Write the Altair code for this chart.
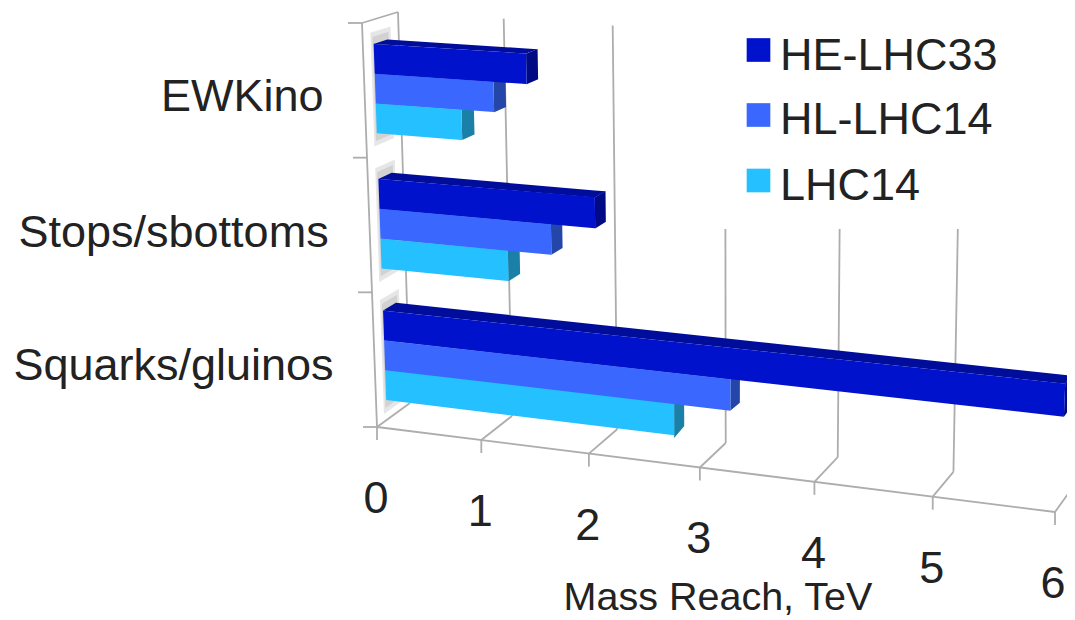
import altair as alt
import pandas as pd

# ---- values (TeV) ----
categories = ["Squarks/gluinos", "Stops/sbottoms", "EWKino"]
series = ["LHC14", "HL-LHC14", "HE-LHC33"]
LHC14 = [2.7, 1.2, 0.8]
HL_LHC14 = [3.2, 1.6, 1.1]
HE_LHC33 = [6.0, 2.0, 1.4]
x_ticks = [0, 1, 2, 3, 4, 5, 6]
x_title = "Mass Reach, TeV"

# ---- styles ----
legend_order = ["HE-LHC33", "HL-LHC14", "LHC14"]
legend_swatch_y = [50, 115, 180.5]
legend_text_y = [56, 120, 186]
front_colors = {"HE-LHC33": "#0012CC", "HL-LHC14": "#3A68FF", "LHC14": "#24C0FF"}
top_colors = {"HE-LHC33": "#000C9A", "HL-LHC14": "#2F55D0", "LHC14": "#1E9FD4"}
side_colors = {"HE-LHC33": "#000A85", "HL-LHC14": "#2346A8", "LHC14": "#1A80A8"}
FONT = "Liberation Sans"
TEXT = "#222222"
GRID = "#adadad"

# ---- perspective box: value (0-6), slot height (0-1), depth (0-1) -> canvas position ----
BOX = {  # (front/back, bottom/top, left/right)
    "fbl": (377, 427), "fbr": (1055, 512), "bbl": (410, 403), "bbr": (1073, 487),
    "ftl": (362, 23), "ftr": (1075, 65), "btl": (398, 12), "btr": (1085, 55),
}
VMAX = 6.0


def warp(u, k):
    return u / (u + k * (1 - u))


def project(v, h, d):
    t = warp(v / VMAX, 1.1)
    def lerp(a, b, s):
        return (a[0] + (b[0] - a[0]) * s, a[1] + (b[1] - a[1]) * s)
    fb = lerp(BOX["fbl"], BOX["fbr"], t)
    ft = lerp(BOX["ftl"], BOX["ftr"], t)
    bb = lerp(BOX["bbl"], BOX["bbr"], t)
    bt = lerp(BOX["btl"], BOX["btr"], t)
    return lerp(lerp(fb, ft, h), lerp(bb, bt, h), d)


def hpos(slot_pos):
    return warp(slot_pos, 1.04)


def sweep(poly):
    """Turn a convex polygon into x / y / y2 rows for an area mark."""
    xs = sorted({round(p[0], 2) for p in poly})
    rows = []
    n = len(poly)
    for x in xs:
        ys = []
        for i in range(n):
            (x0, y0), (x1, y1) = poly[i], poly[(i + 1) % n]
            if min(x0, x1) - 0.01 <= x <= max(x0, x1) + 0.01:
                if abs(x1 - x0) < 1e-6:
                    ys += [y0, y1]
                else:
                    ys.append(y0 + (y1 - y0) * (x - x0) / (x1 - x0))
        rows.append((x, min(ys), max(ys)))
    return rows


D0, D1 = 0.30, 0.68
T = 0.0745
values = {"LHC14": LHC14, "HL-LHC14": HL_LHC14, "HE-LHC33": HE_LHC33}

back_rows, front_rows, shadow_rows = [], [], []
for ci, cat in enumerate(categories):
    centre = (ci + 0.5) / 3
    for si, s in enumerate(series):
        v = values[s][ci]
        lo = hpos(centre) + T * (si - 1.5)
        hi = lo + T
        f = [project(0, lo, D0), project(0, hi, D0), project(v, hi, D0), project(v, lo, D0)]
        top = [project(0, hi, D0), project(0, hi, D1), project(v, hi, D1), project(v, hi, D0)]
        side = [project(v, lo, D0), project(v, hi, D0), project(v, hi, D1), project(v, lo, D1)]
        for name, poly, col in (("top", top, top_colors[s]), ("side", side, side_colors[s])):
            for x, y, y2 in sweep(poly):
                back_rows.append(dict(face=f"{cat}-{s}-{name}", x=x, y=y, y2=y2, color=col))
        for x, y, y2 in sweep(f):
            front_rows.append(dict(face=f"{cat}-{s}", series=s, x=x, y=y, y2=y2))
    for pad, dlo, dhi in ((0.03, 0.22, 0.78), (0.018, 0.27, 0.72)):
        glo = hpos(centre) - 1.5 * T - pad
        ghi = hpos(centre) + 1.5 * T + pad
        poly = [project(0, glo, dlo), project(0, ghi, dlo), project(0, ghi, dhi), project(0, glo, dhi)]
        for x, y, y2 in sweep(poly):
            shadow_rows.append(dict(face=f"{cat}-{pad}", x=x, y=y, y2=y2))

segments = []


def seg(name, a, b):
    segments.append(dict(seg=name, i=0, x=a[0], y=a[1]))
    segments.append(dict(seg=name, i=1, x=b[0], y=b[1]))


for v in x_ticks:
    seg(f"wall{v}", project(v, 0, 1), project(v, 1, 1))
    seg(f"floor{v}", project(v, 0, 0), project(v, 0, 1))
    p = project(v, 0, 0)
    seg(f"tick{v}", p, (p[0], p[1] + 13))
seg("front", project(0, 0, 0), project(VMAX, 0, 0))
seg("edge", project(0, 0, 0), project(0, 1, 0))
seg("walltop", project(0, 1, 0), project(0, 1, 1))
for i in range(4):
    p = project(0, i / 3, 0)
    seg(f"ytick{i}", (p[0] - 14, p[1]), p)

# ---- canvas scales: canvas starts 8px into the page ----
W, H = 1059, 612

x_labels = []
for v in x_ticks:
    p = project(v, 0, 0)
    x_labels.append(dict(label=str(v), x=min(p[0] - 1, 8 + W - 14), y=p[1] + 72))
cat_labels = []
for ci, cat in enumerate(categories):
    p = project(0, hpos((ci + 0.5) / 3), 0)
    cat_labels.append(dict(label=cat, x=p[0] - 41, y=p[1] + 4))

sx = alt.Scale(domain=[8, 8 + W], range=[0, W], nice=False, zero=False)
sy = alt.Scale(domain=[8, 8 + H], range=[0, H], nice=False, zero=False)
X = alt.X("x:Q", scale=sx, axis=None)
Y = alt.Y("y:Q", scale=sy, axis=None)
series_scale = alt.Scale(domain=legend_order, range=[front_colors[s] for s in legend_order])

lines = alt.Chart(pd.DataFrame(segments)).mark_line(color=GRID, strokeWidth=1.8, clip=True).encode(
    x=X, y=Y, detail="seg:N", order="i:Q"
)
mask = alt.Chart(pd.DataFrame([dict(x=660, x2=8 + W, y=8, y2=229)])).mark_rect(color="white").encode(
    x=X, x2="x2:Q", y=Y, y2="y2:Q"
)
shadow = alt.Chart(pd.DataFrame(shadow_rows)).mark_area(color="#808080", opacity=0.2, orient="vertical").encode(
    x=X, y=Y, y2="y2:Q", detail="face:N"
)
back = alt.Chart(pd.DataFrame(back_rows)).mark_area(orient="vertical", clip=True).encode(
    x=X, y=Y, y2="y2:Q", detail="face:N", color=alt.Color("color:N", scale=None, legend=None)
)
front = alt.Chart(pd.DataFrame(front_rows)).mark_area(orient="vertical").encode(
    x=X, y=Y, y2="y2:Q", detail="face:N",
    color=alt.Color("series:N", scale=series_scale, legend=None),
)
swatches = alt.Chart(
    pd.DataFrame([dict(series=s, x=758.5, y=yy) for s, yy in zip(legend_order, legend_swatch_y)])
).mark_square(size=560, opacity=1, filled=True).encode(
    x=X, y=Y, color=alt.Color("series:N", scale=series_scale, legend=None)
)
swatch_text = alt.Chart(
    pd.DataFrame([dict(label=s, x=780, y=yy) for s, yy in zip(legend_order, legend_text_y)])
).mark_text(font=FONT, fontSize=45, color=TEXT, align="left", baseline="middle").encode(
    x=X, y=Y, text="label:N"
)
xlab = alt.Chart(pd.DataFrame(x_labels)).mark_text(
    font=FONT, fontSize=45, color=TEXT, align="center", baseline="middle"
).encode(x=X, y=Y, text="label:N")
ylab = alt.Chart(pd.DataFrame(cat_labels)).mark_text(
    font=FONT, fontSize=45, color=TEXT, align="right", baseline="middle"
).encode(x=X, y=Y, text="label:N")
title = alt.Chart(pd.DataFrame([dict(label=x_title, x=718, y=598)])).mark_text(
    font=FONT, fontSize=39.5, color=TEXT, align="center", baseline="middle"
).encode(x=X, y=Y, text="label:N")

chart = (
    alt.layer(lines, mask, shadow, back, front, swatches, swatch_text, xlab, ylab, title)
    .resolve_scale(color="independent")
    .properties(width=W, height=H, padding=0, autosize=alt.AutoSizeParams(type="none"), background="white")
    .configure_view(stroke=None)
)

chart.save("out.html", embed_options={"renderer": "svg", "actions": False})
